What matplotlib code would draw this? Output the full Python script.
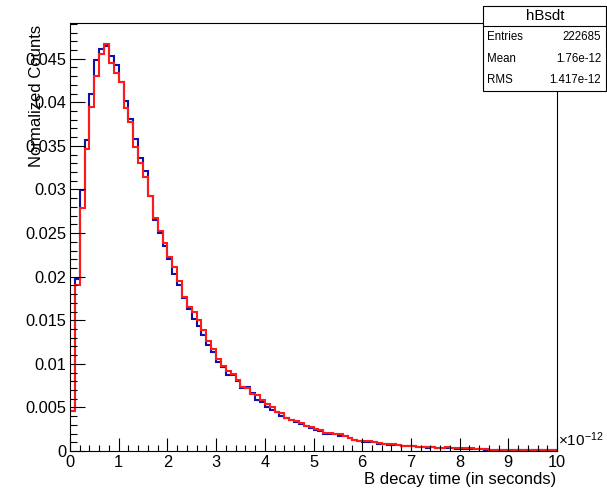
import numpy as np
import matplotlib
matplotlib.use("Agg")
import matplotlib.pyplot as plt
from matplotlib.patches import Rectangle
from matplotlib.lines import Line2D
from matplotlib.ticker import MultipleLocator

plt.rcParams['font.family'] = ['Liberation Sans', 'DejaVu Sans']
plt.rcParams['mathtext.fontset'] = 'custom'
plt.rcParams['mathtext.rm'] = 'Liberation Sans'
plt.rcParams['mathtext.it'] = 'Liberation Sans'

# decay time histogram, 100 bins over [0, 10] x 1e-12 s, normalized
bin_edges = np.linspace(0, 10, 101)

blue_counts = [
    0.0046, 0.0197, 0.0299, 0.0357, 0.0410, 0.0449, 0.0461, 0.0465, 0.0453, 0.0443,
    0.0423, 0.0401, 0.0381, 0.0358, 0.0336, 0.0321, 0.0292, 0.0265, 0.0250, 0.0235,
    0.0220, 0.0203, 0.0190, 0.0175, 0.0163, 0.0151, 0.0143, 0.0133, 0.0122, 0.0114,
    0.0102, 0.0096, 0.0087, 0.0087, 0.0080, 0.0072, 0.0073, 0.0066, 0.0059, 0.0056,
    0.0050, 0.0047, 0.0045, 0.0040, 0.0038, 0.0035, 0.0033, 0.0031, 0.0029, 0.0026,
    0.0024, 0.0023, 0.0020, 0.0020, 0.0019, 0.0017, 0.0017, 0.0015, 0.0013, 0.0011,
    0.0010, 0.0010, 0.0010, 0.00078, 0.00078, 0.00072, 0.00070, 0.00068, 0.00060, 0.00058,
    0.00055, 0.00050, 0.00042, 0.00040, 0.00042, 0.00038, 0.00036, 0.00035, 0.00030, 0.00020,
    0.00020, 0.00028, 0.00022, 0.00020, 0.00018, 0.00017, 0.00016, 0.00015, 0.00014, 0.00013,
    0.00012, 0.00011, 0.00010, 0.00010, 0.00009, 0.00009, 0.00008, 0.00008, 0.00007, 0.00007,
]

red_counts = [
    0.0046, 0.0191, 0.0279, 0.0346, 0.0395, 0.0430, 0.0456, 0.0467, 0.0445, 0.0434,
    0.0423, 0.0393, 0.0378, 0.0349, 0.0330, 0.0314, 0.0292, 0.0267, 0.0252, 0.0239,
    0.0223, 0.0211, 0.0195, 0.0177, 0.0165, 0.0160, 0.0150, 0.0139, 0.0126, 0.0117,
    0.0106, 0.0097, 0.0092, 0.0088, 0.0081, 0.0073, 0.0072, 0.0065, 0.0064, 0.0059,
    0.0054, 0.0050, 0.0045, 0.0044, 0.0038, 0.0036, 0.0034, 0.0032, 0.0029, 0.0027,
    0.0025, 0.0024, 0.0021, 0.0021, 0.0020, 0.0019, 0.0017, 0.0015, 0.0013, 0.0012,
    0.0011, 0.0011, 0.0010, 0.0009, 0.00085, 0.00075, 0.00075, 0.00070, 0.00060, 0.00060,
    0.00060, 0.00050, 0.00045, 0.00045, 0.00045, 0.00040, 0.00040, 0.00045, 0.00030, 0.00030,
    0.00035, 0.00035, 0.00032, 0.00022, 0.00020, 0.00018, 0.00017, 0.00016, 0.00015, 0.00014,
    0.00013, 0.00013, 0.00012, 0.00011, 0.00010, 0.00010, 0.00009, 0.00008, 0.00008, 0.00007,
]

hist_name = "hBsdt"
stats_rows = [("Entries", "222685"), ("Mean", "1.76e-12"), ("RMS", "1.417e-12")]
x_title = "B decay time (in seconds)"
y_title = "Normalized Counts"

W, H = 607, 490
fig = plt.figure(figsize=(W / 100, H / 100), dpi=100)
ax = fig.add_axes([70 / W, 1 - 451 / H, 487 / W, 428 / H])

ax.stairs(blue_counts, bin_edges, baseline=None, color='#1010a8', lw=1.5)
ax.stairs(red_counts, bin_edges, baseline=None, color='#ff1a1a', lw=1.5)

ax.set_xlim(0, 10)
ax.set_ylim(0, 0.0491)

ax.xaxis.set_major_locator(MultipleLocator(1))
ax.xaxis.set_minor_locator(MultipleLocator(0.2))
ax.yaxis.set_major_locator(MultipleLocator(0.005))
ax.yaxis.set_minor_locator(MultipleLocator(0.001))
ax.set_yticks(np.arange(0, 0.0451, 0.005))
ax.set_yticklabels(['0'] + [f'{v:g}' for v in np.arange(0.005, 0.0451, 0.005).round(3)])

for s in ax.spines.values():
    s.set_linewidth(0.8)
    s.set_color('black')

ax.tick_params(axis='both', which='both', direction='in', width=0.8,
               top=False, right=False, labelsize=11.8)
ax.tick_params(axis='y', which='major', length=10.5, pad=2.5)
ax.tick_params(axis='y', which='minor', length=5.2)
ax.tick_params(axis='x', which='major', length=9.2, pad=3)
ax.tick_params(axis='x', which='minor', length=4.6)

# exponent marker at the end of the x axis
ax.text(1.002, 0.005, r'$\times10^{-12}$', transform=ax.transAxes,
        ha='left', va='bottom', fontsize=11)

fig.text(556 / W, 1 - 479 / H, x_title, ha='right', va='center', fontsize=12)
fig.text(37 / W, 1 - 25 / H, y_title, rotation=90, ha='center', va='top', fontsize=12)

# statistics box
bx0, bx1 = 483 / W, 606 / W
by_top, by_div, by_bot = 1 - 6 / H, 1 - 26 / H, 1 - 91 / H
fig.patches.append(Rectangle((bx0, by_bot), bx1 - bx0, by_top - by_bot,
                             transform=fig.transFigure, facecolor='white',
                             edgecolor='black', lw=0.8, zorder=5))
fig.lines.append(Line2D([bx0, bx1], [by_div, by_div], transform=fig.transFigure,
                        color='black', lw=0.8, zorder=6))
fig.text((bx0 + bx1) / 2 + 1 / W, 1 - 16 / H, hist_name, ha='center', va='center',
         fontsize=10.8, zorder=7)
for i, (k, v) in enumerate(stats_rows):
    yc = 1 - (37 + 21.7 * i) / H
    fig.text(487 / W, yc, k, ha='left', va='center', fontsize=8.3, zorder=7)
    fig.text(601 / W, yc, v, ha='right', va='center', fontsize=8.3, zorder=7)

fig.savefig("out.png", dpi=100)
